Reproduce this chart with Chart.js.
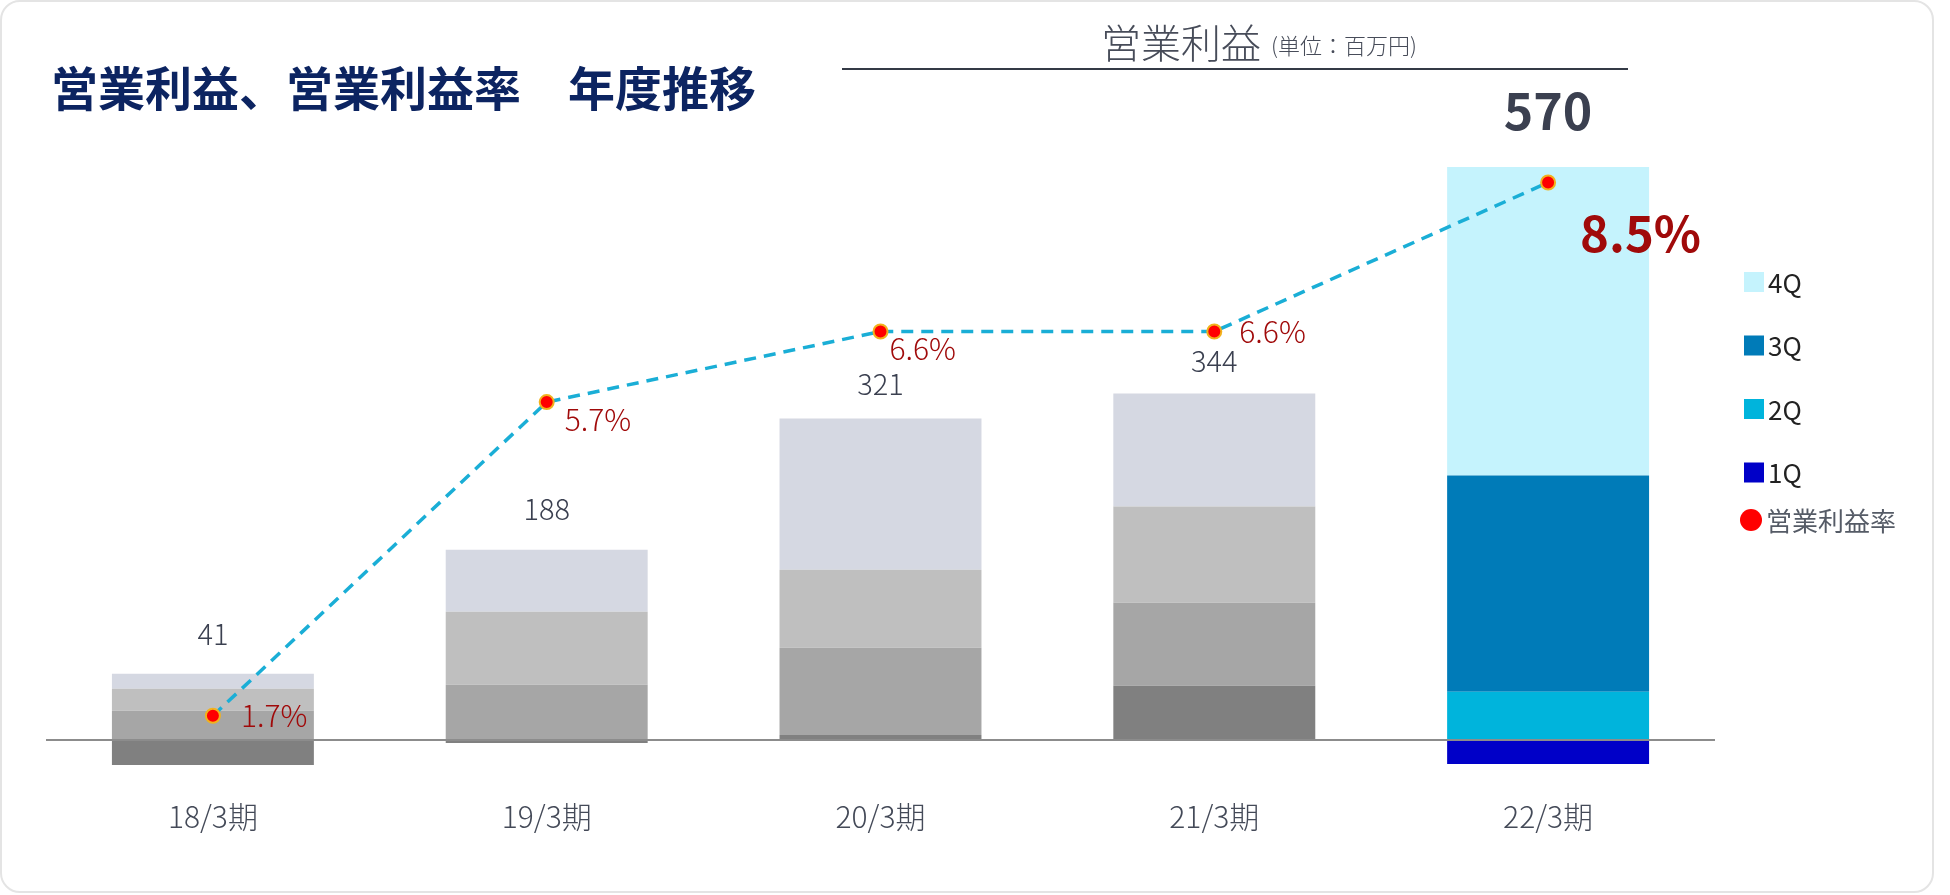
<!DOCTYPE html>
<html lang="ja">
<head>
<meta charset="utf-8">
<title>営業利益、営業利益率 年度推移</title>
<script src="https://cdn.jsdelivr.net/npm/chart.js@4.4.1/dist/chart.umd.min.js"></script>
<style>
  html, body { margin: 0; padding: 0; background: #fff; }
  body { width: 1950px; height: 895px; position: relative; overflow: hidden;
         font-family: "Noto Sans CJK JP", "Noto Sans", sans-serif; }
  #card { position: absolute; left: 0; top: 0; width: 1930px; height: 889px;
          border: 2px solid #e4e4e4; border-radius: 20px; }
  #chart { position: absolute; left: 0; top: 0; }
  #title { position: absolute; left: 51px; top: 62px; font-size: 47px; line-height: 47px;
           font-weight: 700; color: #0c2461; white-space: pre; }
  #head { position: absolute; left: 1101px; top: 21px; font-size: 40px; line-height: 40px;
          font-weight: 300; color: #474c59; white-space: nowrap; }
  #head span { font-size: 22px; margin-left: 10px; position: relative; top: -4px; }
  #headLine { position: absolute; left: 842px; top: 68px; width: 786px; height: 2px; background: #343a46; }
</style>
</head>
<body>
<div id="card"></div>
<canvas id="chart" width="1950" height="895"></canvas>
<div id="title">営業利益、営業利益率　年度推移</div>
<div id="head">営業利益<span>(単位：百万円)</span></div>
<div id="headLine"></div>
<script>
// 期
var periods = ['18/3期', '19/3期', '20/3期', '21/3期', '22/3期'];
// 四半期ごとの営業利益（百万円）
var q1 = [-25, -3, 5, 54, -24];
var q2 = [29, 55, 87, 83, 48];
var q3 = [22, 73, 78, 96, 216];
var q4 = [15, 62, 151, 113, 308];
// 年度合計ラベル
var totals = [41, 188, 321, 344, 570];
// 営業利益率（%）
var margins = [1.7, 5.7, 6.6, 6.6, 8.5];

// ラベルの置き方（見た目だけ）
var totalLift = [40, 41, 34, 32, 56];
var marginShift = [[28, 0], [18, 17], [9, 17], [25, 0], [32, 51]];

function colors(gray, current){
    return [gray, gray, gray, gray, current];
}

function barSet(label, data, gray, current){
    return {
        type: 'bar',
        label: label,
        data: data,
        backgroundColor: colors(gray, current),
        borderWidth: 0,
        stack: 'pl',
        order: 1,
        categoryPercentage: 1,
        barPercentage: 0.605
    };
}

var labelPlugin = {
    id: 'labels',
    afterDatasetsDraw: function(chart){
        var ctx = chart.ctx;
        var x = chart.scales.x, y = chart.scales.y, y1 = chart.scales.y1;
        var area = chart.chartArea;
        ctx.save();

        // ゼロ線
        ctx.strokeStyle = '#8c8c8c';
        ctx.lineWidth = 2;
        ctx.beginPath();
        ctx.moveTo(area.left, y.getPixelForValue(0));
        ctx.lineTo(area.right, y.getPixelForValue(0));
        ctx.stroke();

        // 合計ラベル
        ctx.textAlign = 'center';
        ctx.textBaseline = 'middle';
        for(var i = 0; i < periods.length; i++){
            var pos = 0;
            [q1, q2, q3, q4].forEach(function(s){ if(s[i] > 0) pos += s[i]; });
            var last = i === periods.length - 1;
            ctx.fillStyle = '#3b4050';
            ctx.font = last ? '700 50px "Noto Sans CJK JP", sans-serif' : '300 29px "Noto Sans CJK JP", sans-serif';
            ctx.fillText(String(totals[i]), x.getPixelForValue(i), y.getPixelForValue(pos) - totalLift[i]);
        }

        // 利益率ラベル
        ctx.textAlign = 'left';
        for(var j = 0; j < margins.length; j++){
            var lastM = j === margins.length - 1;
            ctx.fillStyle = '#a00a0a';
            ctx.font = lastM ? '700 49px "Noto Sans CJK JP", sans-serif' : '300 30px "Noto Sans CJK JP", sans-serif';
            ctx.fillText(margins[j].toFixed(1) + '%',
                x.getPixelForValue(j) + marginShift[j][0],
                y1.getPixelForValue(margins[j]) + marginShift[j][1]);
        }

        // 凡例
        var sets = chart.data.datasets;
        var legendRows = [3, 2, 1, 0];
        ctx.font = '400 26px "Noto Sans CJK JP", sans-serif';
        legendRows.forEach(function(d, k){
            var cy = 282 + k * 63.5;
            ctx.fillStyle = sets[d].backgroundColor[4];
            ctx.fillRect(1744, cy - 10, 20, 20);
            ctx.fillStyle = '#222222';
            ctx.fillText(sets[d].label, 1768, cy + 1);
        });
        ctx.fillStyle = '#ff0000';
        ctx.beginPath();
        ctx.arc(1751, 520, 11, 0, Math.PI * 2);
        ctx.fill();
        ctx.fillStyle = '#555b66';
        ctx.fillText(sets[4].label, 1766, 521);

        ctx.restore();
    }
};

Chart.defaults.font.family = '"Noto Sans CJK JP", "Noto Sans", sans-serif';

new Chart(document.getElementById('chart').getContext('2d'), {
    type: 'bar',
    data: {
        labels: periods,
        datasets: [
            barSet('1Q', q1, '#808080', '#0000c8'),
            barSet('2Q', q2, '#a6a6a6', '#00b4dc'),
            barSet('3Q', q3, '#bfbfbf', '#007bb8'),
            barSet('4Q', q4, '#d5d8e2', '#c5f3fd'),
            {
                type: 'line',
                label: '営業利益率',
                data: margins,
                yAxisID: 'y1',
                order: 0,
                borderColor: '#1aaed6',
                borderWidth: 3.5,
                borderDash: [12, 8],
                fill: false,
                tension: 0,
                pointRadius: 7,
                pointBackgroundColor: '#ff0000',
                pointBorderColor: '#f2b21c',
                pointBorderWidth: 2
            }
        ]
    },
    options: {
        responsive: false,
        animation: false,
        devicePixelRatio: 1,
        layout: { padding: { left: 46, right: 235, top: 139, bottom: 57 } },
        plugins: { legend: { display: false }, tooltip: { enabled: false } },
        scales: {
            x: {
                stacked: true,
                grid: { display: false, drawTicks: false },
                border: { display: false },
                ticks: { color: '#444a58', font: { size: 30, weight: 300 }, padding: 3 }
            },
            y: {
                display: false,
                stacked: true,
                min: -56,
                max: 600
            },
            y1: {
                display: false,
                position: 'right',
                min: 0.677,
                max: 9.055
            }
        }
    },
    plugins: [labelPlugin]
});
</script>
</body>
</html>
